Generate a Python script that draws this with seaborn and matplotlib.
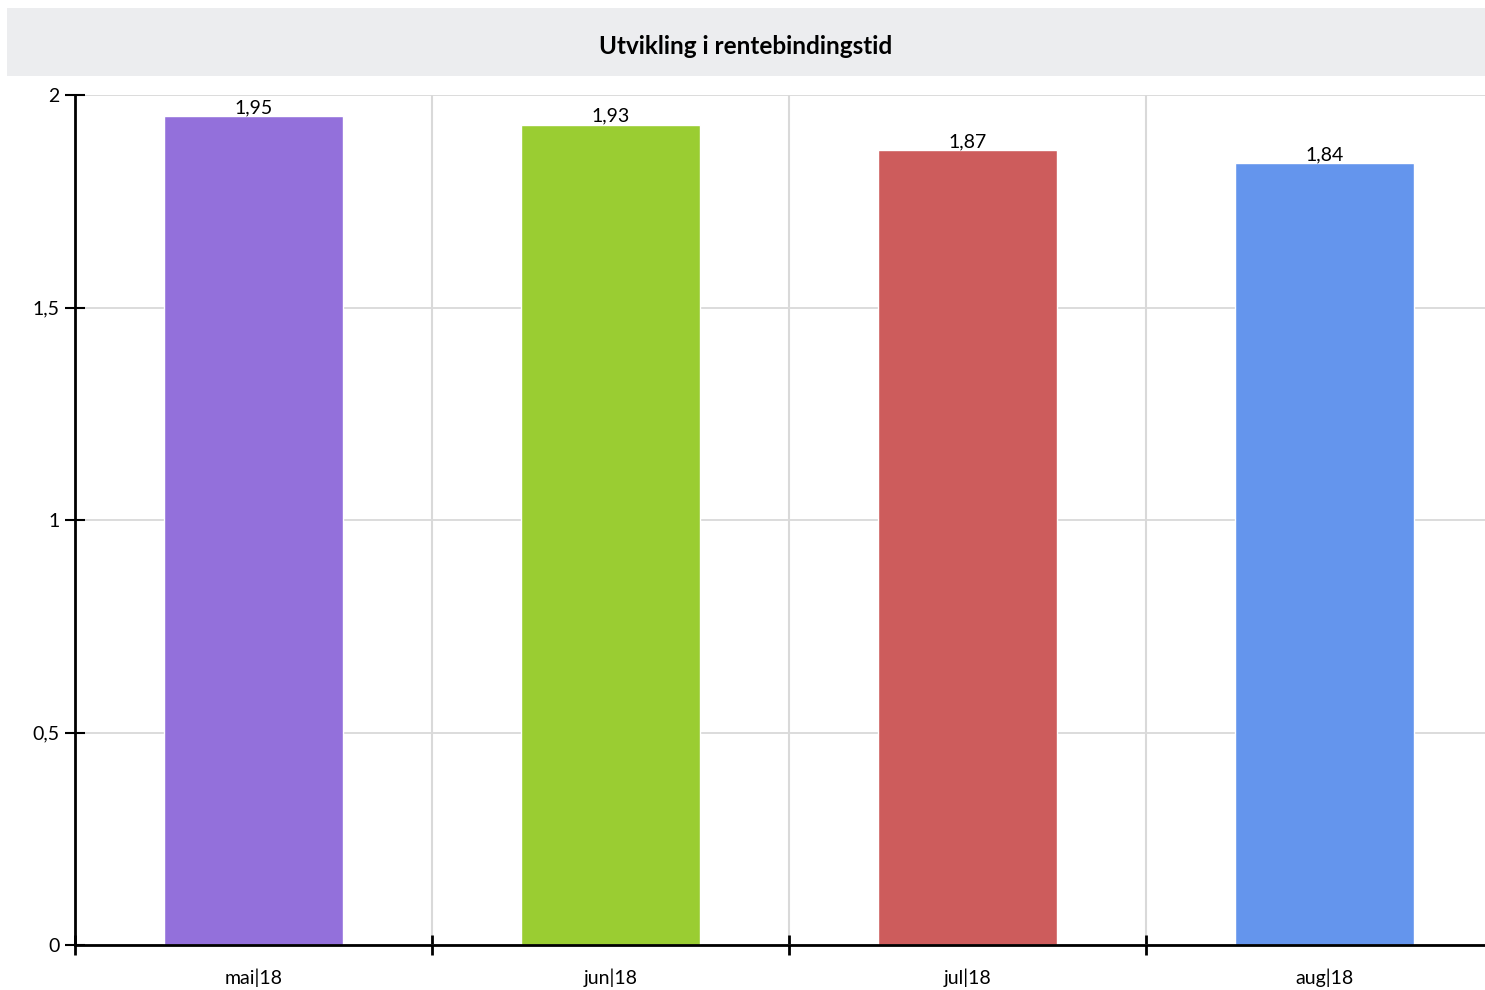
import matplotlib
matplotlib.use("Agg")
import matplotlib.pyplot as plt
import seaborn as sns
import pandas as pd
from matplotlib.patches import Rectangle
from matplotlib.ticker import FixedLocator, FuncFormatter

categories = ["mai|18", "jun|18", "jul|18", "aug|18"]
values = [1.95, 1.93, 1.87, 1.84]
colors = ["#9370DB", "#9ACD32", "#CD5C5C", "#6495ED"]
title = "Utvikling i rentebindingstid"
yticks = [0, 0.5, 1, 1.5, 2]

sns.set_theme(style="white")
plt.rcParams['font.family'] = ['Lato', 'DejaVu Sans']

df = pd.DataFrame({"cat": categories, "val": values})

fig = plt.figure(figsize=(14.85, 9.9), dpi=100)
W, H = 1485, 990
ax = fig.add_axes([75 / W, (H - 945) / H, (4 * 357) / W, (945 - 95) / H])

# title band
fig.patches.append(Rectangle((7 / W, (H - 76) / H), (1485 - 7) / W, 68 / H,
                             transform=fig.transFigure, facecolor="#ECEDEF",
                             edgecolor="none", zorder=0))
fig.text((7 + 1485) / 2 / W, (H - 46) / H, title, ha="center", va="center",
         fontsize=17.5, fontweight="bold", color="black")

sns.barplot(data=df, x="cat", y="val", hue="cat", palette=colors, width=0.5,
            ax=ax, legend=False, saturation=1, zorder=3)

ax.set_ylim(0, 2)
ax.set_xlim(-0.5, len(categories) - 0.5)
ax.set_yticks(yticks)
ax.yaxis.set_major_formatter(FuncFormatter(lambda v, p: f"{v:g}".replace(".", ",")))
ax.set_xlabel("")
ax.set_ylabel("")

# boundaries as minor ticks
ax.xaxis.set_minor_locator(FixedLocator([i - 0.5 for i in range(len(categories))]))
ax.tick_params(axis="x", which="major", bottom=True, length=0, labelsize=14, pad=17,
               colors="black")
ax.tick_params(axis="x", which="minor", bottom=True, direction="inout", length=14,
               width=2, color="black")
ax.tick_params(axis="y", which="major", left=True, direction="inout", length=14, width=1.5,
               color="black", labelsize=14, pad=4, labelcolor="black")

ax.grid(True, axis="y", which="major", color="#D9D9D9", linewidth=1.3, zorder=0)
ax.grid(True, axis="x", which="minor", color="#D9D9D9", linewidth=1.5, zorder=0)
ax.grid(False, axis="x", which="major")
ax.set_axisbelow(True)

for s in ["top", "right"]:
    ax.spines[s].set_visible(False)
for s in ["left", "bottom"]:
    ax.spines[s].set_color("black")
    ax.spines[s].set_linewidth(2)
    ax.spines[s].set_zorder(5)

for c in ax.containers:
    ax.bar_label(c, labels=[f"{v:.2f}".replace(".", ",") for v in c.datavalues],
                 fontsize=14, padding=0, color="black")

fig.savefig("out.png", dpi=100)
